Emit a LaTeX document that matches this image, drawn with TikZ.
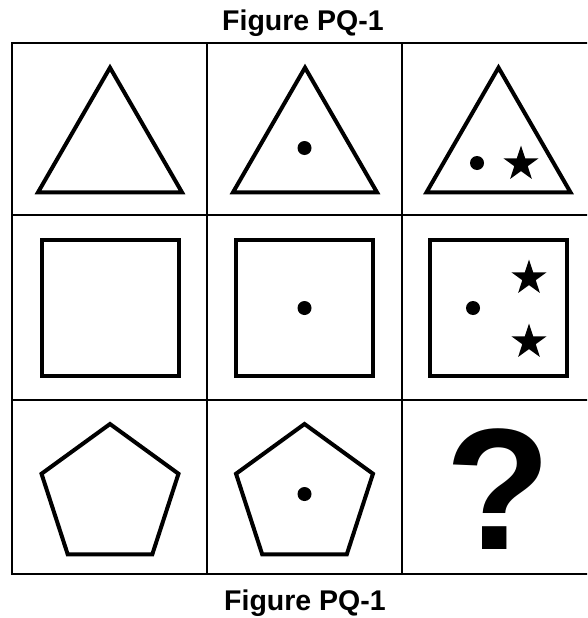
\documentclass[tikz,border=0pt]{standalone}
\usepackage{fontspec}
\setmainfont{Liberation Sans}
\begin{document}
\begin{tikzpicture}[x=1pt,y=-1pt,
  gridline/.style={line width=2pt, line cap=rect},
  figshape/.style={line width=4pt, line join=miter},
  dotmark/.style={fill=black},
  titletext/.style={font=\fontsize{28.5}{30}\selectfont\bfseries, anchor=base, inner sep=0pt},
  pics/starmark/.style={code={
    \fill (270:18.5) \foreach \k in {1,...,9}{ -- ({270+36*\k}:{ifthenelse(mod(\k,2)==0,18.5,7.1)}) } -- cycle;
  }},
  pics/tri/.style={code={
    \draw[figshape] (-72,62.35) -- (72,62.35) -- (0,-62.35) -- cycle;
  }},
  pics/pent/.style={code={
    \draw[figshape] (270:72) -- (342:72) -- (54:72) -- (126:72) -- (198:72) -- cycle;
  }},
  pics/sq/.style={code={
    \draw[figshape] (-68.5,-68) rectangle (68.5,68);
  }}
]
\useasboundingbox (0,0) rectangle (587,618);
\fill[white] (0,0) rectangle (587,618);
\clip (0,0) rectangle (587,618);

% titles
\node[titletext] (title) at (303,31) {Figure PQ-1};
\node[titletext] (caption) at (305,610) {Figure PQ-1};

% grid
\draw[gridline] (12,43.5) rectangle (598,574);
\draw[gridline] (207,43.5) -- (207,574);
\draw[gridline] (402,43.5) -- (402,574);
\draw[gridline] (12,215) -- (598,215);
\draw[gridline] (12,400) -- (598,400);

% row 1: triangles
\pic at (110,130) {tri};
\pic at (305,130) {tri};
\pic at (498.5,130) {tri};
\fill[dotmark] (304.5,148) circle (7);
\fill[dotmark] (477,163) circle (7);
\pic at (521,164) {starmark};

% row 2: squares
\pic at (110.5,308) {sq};
\pic at (304.5,308) {sq};
\pic at (498.5,308) {sq};
\fill[dotmark] (304.5,308) circle (7);
\fill[dotmark] (473,308) circle (7);
\pic at (529,278) {starmark};
\pic at (529,342) {starmark};

% row 3: pentagons
\pic at (110,496) {pent};
\pic at (304.5,496) {pent};
\fill[dotmark] (304.5,494) circle (7);
\node[font=\fontsize{173}{173}\selectfont\bfseries, anchor=base, inner sep=0pt] (qmark) at (498,549) {?};
\end{tikzpicture}
\end{document}
